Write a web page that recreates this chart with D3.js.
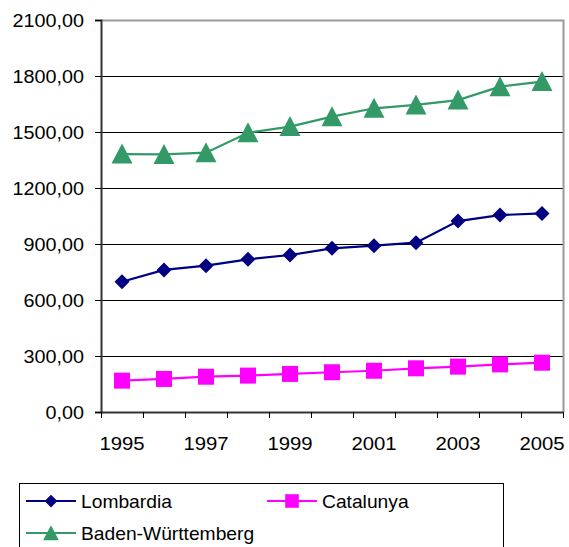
<!DOCTYPE html>
<html>
<head>
<meta charset="utf-8">
<script src="https://cdn.jsdelivr.net/npm/d3@7/dist/d3.min.js"></script>
<style>
  html, body { margin: 0; padding: 0; background: #fff; }
  svg { display: block; font-family: "Liberation Sans", Arial, sans-serif; }
</style>
</head>
<body>
<svg id="chart" width="569" height="547"></svg>
<script>
// Years on the category axis
const years = [1995, 1996, 1997, 1998, 1999, 2000, 2001, 2002, 2003, 2004, 2005];
const yearLabels = ["1995", "1997", "1999", "2001", "2003", "2005"];
const yTicks = [0, 300, 600, 900, 1200, 1500, 1800, 2100];

// Series values
const lombardia = [698, 761, 784, 818, 841, 877, 891, 907, 1023, 1055, 1064];
const catalunya = [168, 177, 189, 195, 204, 213, 221, 234, 243, 255, 264];
const badenWuerttemberg = [1382, 1380, 1389, 1496, 1529, 1582, 1627, 1645, 1671, 1743, 1770];

const seriesNames = ["Lombardia", "Catalunya", "Baden-Württemberg"];

const series = [
  { name: seriesNames[0], values: lombardia, color: "#000080", marker: "diamond" },
  { name: seriesNames[1], values: catalunya, color: "#FF00FF", marker: "square" },
  { name: seriesNames[2], values: badenWuerttemberg, color: "#339966", marker: "triangle" }
];

const svg = d3.select("#chart");
const plot = { left: 101, right: 563, top: 20, bottom: 412 };

const x = d3.scaleBand().domain(years).range([plot.left, plot.right]).paddingInner(0).paddingOuter(0);
const xEdge = d3.scaleLinear().domain([0, years.length]).range([plot.left, plot.right]);
const y = d3.scaleLinear().domain([0, 2100]).range([plot.bottom, plot.top]);
const cx = yr => x(yr) + x.bandwidth() / 2;

// Horizontal gridlines
svg.append("g")
  .selectAll("line")
  .data(yTicks.filter(t => t > 0 && t < 2100))
  .join("line")
  .attr("x1", plot.left).attr("x2", plot.right)
  .attr("y1", d => y(d) + 0.5).attr("y2", d => y(d) + 0.5)
  .attr("stroke", "#000").attr("stroke-width", 1);

// Plot frame (top and right)
svg.append("path")
  .attr("d", `M${plot.left},${plot.top + 0.5}H${plot.right + 0.5}V${plot.bottom}`)
  .attr("fill", "none").attr("stroke", "#9a9a9a").attr("stroke-width", 2);

// Y axis
const yAxis = svg.append("g")
  .attr("transform", `translate(${plot.left},0)`)
  .call(d3.axisLeft(y).tickValues(yTicks).tickSize(6).tickFormat(""));
yAxis.select(".domain").attr("stroke", "#333").attr("stroke-width", 2);
yAxis.selectAll(".tick line").attr("stroke", "#000");

svg.append("g")
  .selectAll("text")
  .data(yTicks)
  .join("text")
  .attr("transform", d => `translate(84,${y(d) + 7}) scale(1.07,1)`)
  .attr("text-anchor", "end")
  .attr("font-size", 18.5)
  .attr("fill", "#000")
  .text(d => d3.format(".2f")(d).replace(".", ","));

// X axis with ticks between categories
const xAxis = svg.append("g")
  .attr("transform", `translate(0,${plot.bottom})`)
  .call(d3.axisBottom(xEdge).tickValues(d3.range(years.length + 1)).tickSize(6).tickSizeOuter(0).tickFormat(""));
xAxis.select(".domain").attr("stroke", "#333").attr("stroke-width", 2);
xAxis.selectAll(".tick line").attr("stroke", "#000");

svg.append("g")
  .selectAll("text")
  .data(yearLabels)
  .join("text")
  .attr("transform", d => `translate(${cx(+d)},${450}) scale(1.07,1)`)
  .attr("text-anchor", "middle")
  .attr("font-size", 19)
  .attr("fill", "#000")
  .text(d => d);

// Marker shapes
function markerPath(type) {
  if (type === "diamond") return "M0,-7.5L7.5,0L0,7.5L-7.5,0Z";
  if (type === "square") return "M-8,-8H8V8H-8Z";
  return "M0,-10.5L10.5,9.5H-10.5Z";
}

const line = d3.line().x(d => cx(d.year)).y(d => y(d.value));

series.forEach(s => {
  const pts = years.map((yr, i) => ({ year: yr, value: s.values[i] }));
  const g = svg.append("g");
  g.append("path")
    .datum(pts)
    .attr("d", line)
    .attr("fill", "none")
    .attr("stroke", s.color)
    .attr("stroke-width", 2.2);
  g.selectAll("path.marker")
    .data(pts)
    .join("path")
    .attr("class", "marker")
    .attr("transform", d => `translate(${cx(d.year)},${y(d.value)})`)
    .attr("d", markerPath(s.marker))
    .attr("fill", s.color);
});

// Legend
const legend = svg.append("g");
legend.append("rect")
  .attr("x", 19.5).attr("y", 483.5)
  .attr("width", 484).attr("height", 80)
  .attr("fill", "#fff").attr("stroke", "#000").attr("stroke-width", 1);

const legendPos = [
  { x: 26, y: 501 },
  { x: 267, y: 501 },
  { x: 26, y: 533 }
];

series.forEach((s, i) => {
  const p = legendPos[i];
  const item = legend.append("g").attr("transform", `translate(${p.x},${p.y})`);
  item.append("line")
    .attr("x1", 0).attr("x2", 50).attr("y1", 0).attr("y2", 0)
    .attr("stroke", s.color).attr("stroke-width", 2.2);
  item.append("path")
    .attr("transform", `translate(25,0) scale(${s.marker === "triangle" ? 0.75 : 0.85})`)
    .attr("d", markerPath(s.marker))
    .attr("fill", s.color);
  item.append("text")
    .attr("transform", `translate(55,6.5) scale(1.04,1)`)
    .attr("font-size", 18.5)
    .attr("fill", "#000")
    .text(s.name);
});
</script>
</body>
</html>
